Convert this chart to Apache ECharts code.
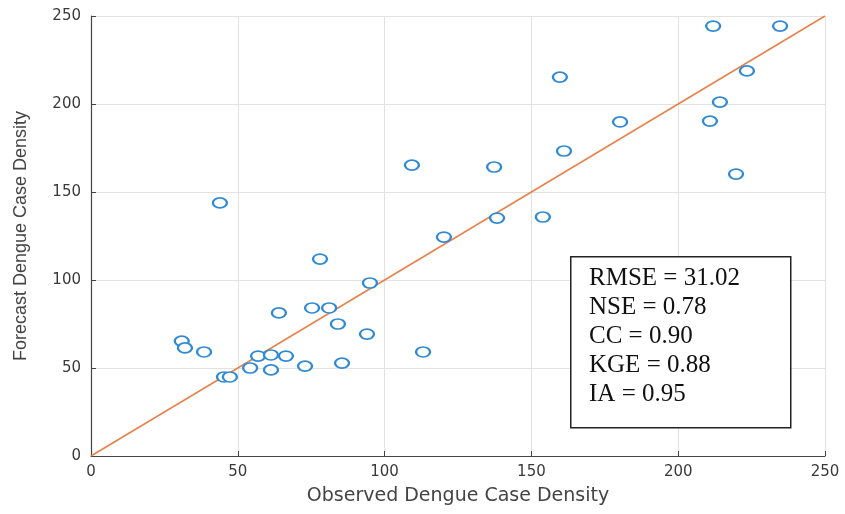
<!DOCTYPE html>
<html>
<head>
<meta charset="utf-8">
<script src="https://cdn.jsdelivr.net/npm/echarts@6/dist/echarts.min.js"></script>
<style>
  html, body { margin: 0; padding: 0; background: #fff; }
  #chart { width: 845px; height: 514px; }
</style>
</head>
<body>
<div id="chart"></div>
<script>
// observed vs forecast dengue case density
const observed = [43.9, 30.9, 32.0, 38.5, 45.3, 47.3, 54.2, 56.9, 61.3, 61.3, 66.4, 64.0,
                  72.9, 75.3, 81.1, 78.0, 84.1, 85.5, 94.0, 95.0, 109.3, 113.1, 120.2, 137.3,
                  138.3, 153.9, 159.7, 161.1, 180.2, 210.8, 214.2, 219.7, 223.4, 211.9, 234.7];
const forecast = [143.8, 65.3, 61.4, 59.1, 44.9, 44.9, 50.0, 56.8, 57.4, 48.9, 56.8, 81.3,
                  51.1, 84.1, 84.1, 111.9, 75.0, 52.8, 69.3, 98.3, 165.3, 59.1, 124.4, 164.2,
                  135.2, 135.8, 215.3, 173.3, 189.8, 190.3, 201.1, 160.2, 218.8, 244.3, 244.3];
const oneToOne = [[0, 0], [250, 250]];
const axisTicks = [0, 50, 100, 150, 200, 250];
const statLines = ['RMSE = 31.02', 'NSE = 0.78', 'CC = 0.90', 'KGE = 0.88', 'IA = 0.95'];

const points = observed.map((x, i) => [x, forecast[i]]);

const chart = echarts.init(document.getElementById('chart'));

const axisCommon = {
  type: 'value',
  min: axisTicks[0],
  max: axisTicks[axisTicks.length - 1],
  interval: 50,
  nameLocation: 'middle',
  axisLine: { show: true, lineStyle: { color: '#444', width: 1.2 } },
  axisTick: { show: true, inside: true, length: 5, lineStyle: { color: '#444' } },
  axisLabel: { fontFamily: 'DejaVu Sans', fontSize: 15, color: '#3a3a3a', margin: 9 },
  splitLine: { show: true, lineStyle: { color: '#e2e2e2', width: 1 } }
};

chart.setOption({
  animation: false,
  backgroundColor: '#fff',
  grid: { left: 91, right: 20, top: 16, bottom: 58 },
  xAxis: Object.assign({}, axisCommon, {
    name: 'Observed Dengue Case Density',
    nameGap: 31,
    nameTextStyle: { fontFamily: 'DejaVu Sans', fontSize: 19, color: '#444' }
  }),
  yAxis: Object.assign({}, axisCommon, {
    name: 'Forecast Dengue Case Density',
    nameGap: 61,
    nameTextStyle: { fontFamily: 'Liberation Sans', fontSize: 18, color: '#444' },
    axisLabel: Object.assign({}, axisCommon.axisLabel, { margin: 10 })
  }),
  series: [
    {
      type: 'line',
      data: oneToOne,
      symbol: 'none',
      lineStyle: { color: '#e8804a', width: 1.5 },
      z: 2
    },
    {
      type: 'scatter',
      data: points,
      symbol: 'emptyCircle',
      symbolSize: [14, 10],
      itemStyle: { color: '#2f8ad3', borderColor: '#2f8ad3', borderWidth: 1.6, opacity: 1 },
      z: 3
    }
  ],
  graphic: [
    {
      type: 'rect',
      left: 570,
      top: 256,
      shape: { width: 220, height: 171 },
      style: { fill: '#fff', stroke: '#222', lineWidth: 1.5 },
      z: 10
    },
    {
      type: 'text',
      left: 589,
      top: 264,
      style: {
        text: statLines.join('\n'),
        font: '25px "Liberation Serif"',
        lineHeight: 29,
        fill: '#111'
      },
      z: 11
    }
  ]
});
</script>
</body>
</html>
